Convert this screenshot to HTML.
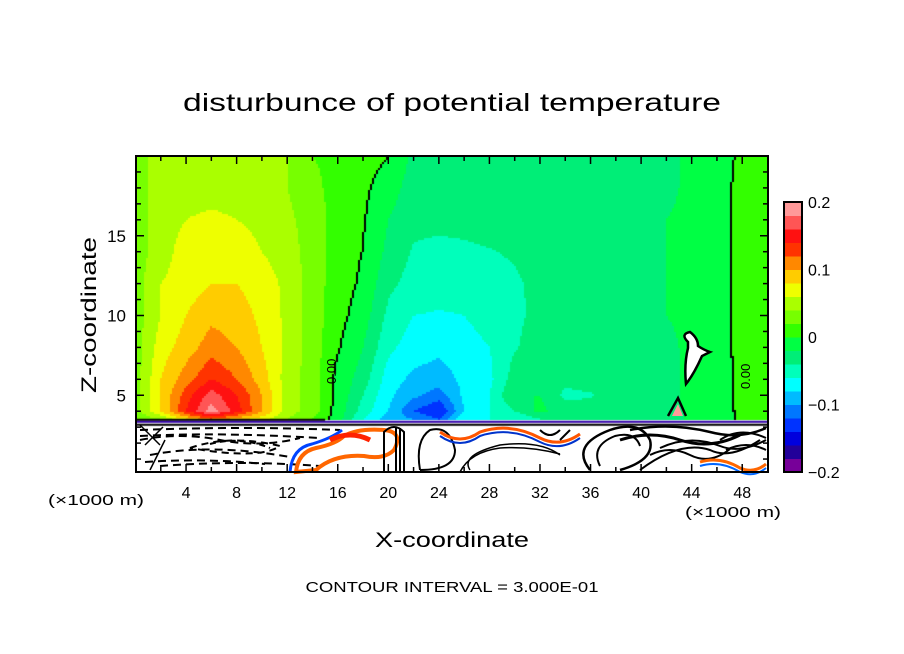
<!DOCTYPE html>
<html><head><meta charset="utf-8"><style>
html,body{margin:0;padding:0;background:#fff;}
#wrap{position:relative;width:904px;height:654px;overflow:hidden;}
canvas,svg{position:absolute;left:0;top:0;}
text{font-family:"Liberation Sans",sans-serif;fill:#000;}
</style></head><body>
<div id="wrap">
<canvas id="field" width="904" height="654"></canvas>
<svg id="ov" width="904" height="654">
<text x="452" y="111" font-size="25" text-anchor="middle" textLength="538" lengthAdjust="spacingAndGlyphs">disturbunce of potential temperature</text>
<text transform="translate(96,315) rotate(-90)" font-size="21" text-anchor="middle" textLength="156" lengthAdjust="spacingAndGlyphs">Z-coordinate</text>
<text x="452" y="547" font-size="21" text-anchor="middle" textLength="154" lengthAdjust="spacingAndGlyphs">X-coordinate</text>
<text x="96" y="505" font-size="15" text-anchor="middle" textLength="96" lengthAdjust="spacingAndGlyphs">(×1000 m)</text>
<text x="733" y="517" font-size="15" text-anchor="middle" textLength="96" lengthAdjust="spacingAndGlyphs">(×1000 m)</text>
<text x="452" y="592" font-size="15" text-anchor="middle" textLength="293" lengthAdjust="spacingAndGlyphs">CONTOUR INTERVAL = 3.000E-01</text>
<g id="decor" fill="none" stroke="#000">
<path d="M140 440 q40 -8 80 0 q40 8 80 -2" stroke-dasharray="8 5" stroke-width="2"/>
<path d="M150 455 q60 -12 140 2" stroke-dasharray="8 5" stroke-width="2"/>
<path d="M190 448 q40 -14 90 -2 q-20 14 -90 2z" stroke-dasharray="7 5" stroke-width="2"/>
<path d="M160 466 q80 -6 160 0" stroke-dasharray="8 5" stroke-width="2"/>
<path d="M140 430 q100 -4 200 0" stroke-dasharray="8 5" stroke-width="2"/>
<path d="M140 436 q80 -4 180 2" stroke-dasharray="8 5" stroke-width="2"/>
<path d="M145 462 q60 -4 120 2" stroke-dasharray="8 5" stroke-width="2"/>
<path d="M210 444 q30 -8 60 4" stroke-dasharray="6 4" stroke-width="2"/>
<path d="M140 425 l20 20 M145 445 l18 -18 M150 470 l15 -30" stroke-width="1.5"/>
<path d="M296 472 q2 -20 20 -24 q20 -4 28 -12 q14 -8 40 -6 q20 2 10 20 q-10 10 -30 6 q-30 -2 -48 14z" stroke="#ff6600" stroke-width="4"/>
<path d="M290 472 q2 -24 22 -28 q20 -6 30 -14" stroke="#0044ff" stroke-width="3"/>
<path d="M330 440 q20 -10 40 0" stroke="#ff2200" stroke-width="5"/>
<path d="M384 472 v-40 q10 -10 20 0 v40" stroke-width="2"/>
<path d="M400 428 v44 M396 428 v44" stroke-width="2"/>
<path d="M420 470 q-5 -30 10 -40 q20 -5 25 20 q0 20 -35 20" stroke-width="2"/>
<path d="M470 470 q-10 -15 30 -25 q40 -5 60 10" stroke-width="1.5"/>
<path d="M460 472 q10 -20 40 -24 q30 -2 60 6" stroke-width="1.5"/>
<path d="M440 432 q20 14 40 0 q30 -10 60 6 q20 10 40 -4" stroke="#ff5500" stroke-width="3"/>
<path d="M440 436 q20 14 40 0 q30 -10 60 6 q20 10 40 -4" stroke="#0033cc" stroke-width="2"/>
<path d="M540 430 q10 10 20 0 M560 440 l10 -10" stroke-width="2"/>
<path d="M590 470 q-20 -25 20 -40 q30 -10 40 10 q5 20 -30 30" stroke-width="2.5"/>
<path d="M600 466 q-10 -20 15 -30 q20 -5 25 10" stroke-width="2"/>
<path d="M620 440 q30 -10 60 0 q30 10 60 -5" stroke-width="3"/>
<path d="M630 430 q40 -8 80 2 q30 8 56 -4" stroke-width="2.5"/>
<path d="M640 470 q40 -30 70 -20 q20 10 50 -10" stroke-width="2"/>
<path d="M650 455 q20 -10 40 0 q20 10 40 -6" stroke-width="2"/>
<path d="M660 448 q30 -14 60 -2 q20 8 46 -6" stroke-width="2"/>
<path d="M720 440 q20 -14 46 -2 M726 450 q20 -10 40 0" stroke-width="2"/>
<path d="M700 462 q20 -6 40 6 q14 6 26 -4" stroke="#ff6600" stroke-width="3"/>
<path d="M700 466 q20 -6 40 6 q14 6 26 -4" stroke="#0066ff" stroke-width="2"/>
<path d="M668 416 l10 -18 l8 18" stroke-width="2.5"/>
<path d="M672 416 l6 -12 l5 12z" fill="#ff9999" stroke="none"/>
<path d="M688 342 q-8 -8 2 -10 q8 6 8 14 q6 4 12 6 l-8 4 q-8 18 -16 28 q-2 -20 2 -36z" fill="#fff" stroke-width="2.5"/>
</g>
<text transform="translate(336,384) rotate(-90)" font-size="13">0.00</text>
<text transform="translate(750,389) rotate(-90)" font-size="13">0.00</text>
<rect x="136" y="156" width="632" height="316" fill="none" stroke="#000" stroke-width="2"/>
<g id="ticks" stroke="#000" stroke-width="1.5"></g>
<g id="labels"></g>
<g id="cbar"></g>
</svg>
</div>
<script>
// grid data (values in units of 0.01 K)
const xsKm=[0,2,4,6,8,10,12,14,16,18,20,22,24,26,28,30,32,34,36,38,40,42,44,46,48,50];
const zsKm=[20,18,16,14,12,10,8,6,5,4,3.5];
const col00=[3,3,3,3,3,3,3,3,3,3,2];
const col02=[5,5,5,5,6,6,7,8,8,8,4];
const col04=[5,5,6,7,7,8,9,11,13,14,8];
const col06=[5,5,6.5,7,8,9.5,11,14,17,19,12];
const col08=[5,5,6,7,8,9,10,12,14,15,9];
const col10=[5,5,5.5,6,7,7.5,8,9,10,10,7];
const col12=[4,4,4.5,5,5.5,5.5,5.5,5,5,5,4];
const col14=[2,2.5,3,3,3,3,3,3,3,3,2];
const col16=[1.5,1.3,1.2,1,1,0.8,0.3,-0.5,-0.5,-0.8,-1];
const col18=[0.8,0.5,0.3,0,-0.3,-1,-2,-3,-4,-5,-6];
const col20=[0.1,-1,-2,-2.5,-3.5,-4.5,-5.5,-7,-7.5,-8,-9];
const col22=[-2.5,-3,-3.5,-4.2,-4.8,-6,-7,-8.5,-9.5,-12,-10];
const col24=[-3,-3,-3.5,-4.5,-5,-6.2,-7.5,-9,-11,-14,-12];
const col26=[-3,-3,-3.5,-4.3,-5,-6,-7,-7.5,-7.5,-8,-6];
const col28=[-3,-3,-3.2,-4.1,-4.6,-5,-6,-6.5,-6,-6,-6];
const col30=[-3,-3,-3,-3.8,-4.3,-4.4,-4.2,-3,-2,-4,-6];
const col32=[-3,-3,-3,-3,-3.5,-3.5,-3,-3,-2,-1.5,-4];
const col34=[-3,-3,-3,-3,-3,-3,-3,-3.5,-4.5,-3,-4];
const col36=[-3,-3,-3,-3,-3,-3,-3,-3,-4.2,-3,-3];
const col38=[-3,-3,-3,-3,-3,-3,-3,-3,-3,-3,-3];
const col40=[-3,-3,-3,-3,-3,-3,-3,-2.5,-2.5,-3,-3];
const col42=[-2.5,-2.5,-2,-2,-2,-2,-2.5,-2.5,-2.5,-3,-3];
const col44=[-1.5,-1.5,-1.5,-1.5,-1.5,-1.5,-1.5,-1.5,-1.5,-1.5,-1.5];
const col46=[-0.8,-0.8,-0.8,-0.8,-0.8,-0.8,-0.8,-1,-1,-1,-1];
const col48=[0.3,0.5,0.5,0.5,0.5,0.5,0.5,0.5,0.5,0.4,0.3];
const col50=[2,2,1.5,1.5,1.5,1.5,1.5,1.5,1.5,1.5,1];
const columns=[col00,col02,col04,col06,col08,col10,col12,col14,col16,col18,col20,col22,col24,col26,col28,col30,col32,col34,col36,col38,col40,col42,col44,col46,col48,col50];
const bandColors=["#770099","#220099","#0000dd","#0033ff","#0077ff","#00bbff","#00ffff","#00ffbb","#00ee77","#00ff44","#33ff00","#77ff00","#aaff00","#eeff00","#ffcc00","#ff8800","#ff3300","#ff1111","#ff5555","#ff9999"];
const xTicks=[4,8,12,16,20,24,28,32,36,40,44,48];
const zTicks=[5,10,15];
const cbTicks=["-0.2","-0.1","0","0.1","0.2"];
const cbTickVals=[-0.2,-0.1,0,0.1,0.2];

const X0=136,X1=768,Y0=156,Y1=472;
const xp=x=>135.5+x*12.64;
const zp=z=>475-z*15.95;
const xInv=p=>(p-135.5)/12.64;
const zInv=p=>(475-p)/15.95;
const ZB=3.4;

function val(x,z){
  let i=Math.min(Math.max(Math.floor(x/2),0),xsKm.length-2);
  let tx=(x-xsKm[i])/(xsKm[i+1]-xsKm[i]);
  let j=0;
  while(j<zsKm.length-2 && z<zsKm[j+1]) j++;
  let tz=(zsKm[j]-z)/(zsKm[j]-zsKm[j+1]);
  tz=Math.max(0,Math.min(1,tz));tx=Math.max(0,Math.min(1,tx));
  const a=columns[i][j],b=columns[i+1][j],c=columns[i][j+1],d=columns[i+1][j+1];
  return (a*(1-tx)+b*tx)*(1-tz)+(c*(1-tx)+d*tx)*tz;
}
const cv=document.getElementById('field');
const ctx=cv.getContext('2d');
const S=2;
const W=Math.ceil((X1-X0)/S),H=Math.ceil((Y1-Y0)/S);
const grid=[];
for(let r=0;r<H;r++){grid.push([]);for(let c=0;c<W;c++){
  const z=zInv(Y0+r*S+1),x=xInv(X0+c*S+1);
  if(z<ZB){grid[r].push(null);continue;}
  const v=val(x,z);grid[r].push(v);
  let b=Math.floor((v+20)/2);b=Math.max(0,Math.min(19,b));
  ctx.fillStyle=bandColors[b];ctx.fillRect(X0+c*S,Y0+r*S,S,S);
}}
ctx.fillStyle="#000";
for(let r=0;r<H;r++)for(let c=0;c<W;c++){
  const v=grid[r][c];if(v===null)continue;
  const rv=c+1<W?grid[r][c+1]:null,dv=r+1<H?grid[r+1][c]:null;
  if((rv!==null&&(v>=0)!==(rv>=0))||(dv!==null&&(v>=0)!==(dv>=0)))ctx.fillRect(X0+c*S,Y0+r*S,S,S);
}
const yb=zp(ZB);
ctx.fillStyle="#3300aa";ctx.fillRect(X0,yb,X1-X0,2);
ctx.fillStyle="#000";ctx.fillRect(X0,yb-2,xp(15)-X0,2);ctx.fillRect(X0,yb+3,X1-X0,2);

const NS="http://www.w3.org/2000/svg";
function mk(tag,attrs,parent){const e=document.createElementNS(NS,tag);for(const k in attrs)e.setAttribute(k,attrs[k]);parent.appendChild(e);return e;}
const tk=document.getElementById('ticks'),lb=document.getElementById('labels'),cb=document.getElementById('cbar');
for(let x=2;x<50;x+=2){
  const L=(x%4===0)?8:5;
  const t1=mk('line',{x1:xp(x),x2:xp(x),y1:Y1,y2:Y1-L},tk);
  
  
  const t2=mk('line',{x1:xp(x),x2:xp(x),y1:Y0,y2:Y0+L},tk);
  
  
}
for(let z=1;z<20;z++){
  const L=(z%5===0)?8:5;
  const t1=mk('line',{x1:X0,x2:X0+L,y1:zp(z),y2:zp(z)},tk);
  
  
  const t2=mk('line',{x1:X1,x2:X1-L,y1:zp(z),y2:zp(z)},tk);
  
  
}
xTicks.forEach(x=>{
  const t=mk('text',{x:xp(x),y:498,'font-size':16,'text-anchor':'middle'},lb);t.textContent=x;
  
  
});
zTicks.forEach(z=>{
  const t=mk('text',{x:126,y:zp(z)+6,'font-size':17,'text-anchor':'end'},lb);t.textContent=z;
  
  
});
const CB0=202,CB1=472,CBX=784,CBW=18;
const cby=v=>CB1-(v+0.2)/0.4*(CB1-CB0);
bandColors.forEach((c,k)=>{
  const v0=-0.2+0.02*k;
  const r=mk('rect',{x:CBX,y:cby(v0+0.02),width:CBW,height:cby(v0)-cby(v0+0.02)+0.5,fill:c},cb);
  
  
});
const fr=mk('rect',{x:CBX,y:CB0,width:CBW,height:CB1-CB0,fill:'none',stroke:'#000','stroke-width':2},cb);


cbTicks.forEach((s,i)=>{
  const t=mk('text',{x:808,y:cby(cbTickVals[i])+6,'font-size':16},cb);t.textContent=s.replace('-','\u2212');
  
  
});
</script>
</body></html>
